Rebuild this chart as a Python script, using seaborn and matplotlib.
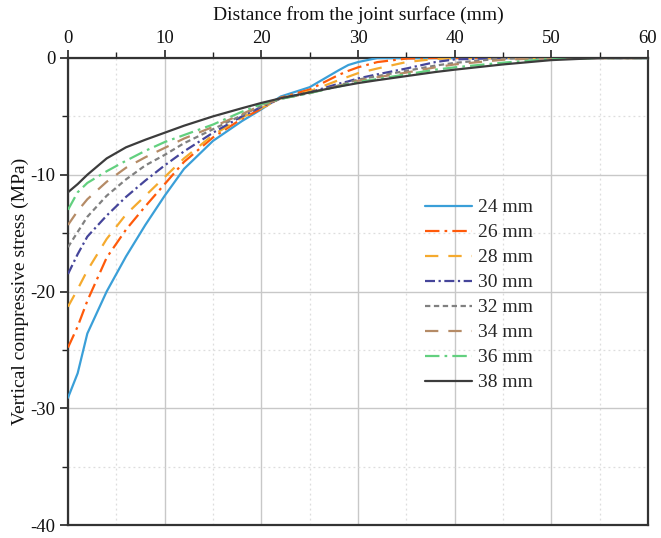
import numpy as np
import pandas as pd
import matplotlib
matplotlib.use("Agg")
import matplotlib.pyplot as plt
from matplotlib.ticker import MultipleLocator
import seaborn as sns

# ---- data ----
distance = [0, 1, 2, 4, 6, 8, 10, 12, 15, 18, 20, 22, 25, 28, 29, 30, 32, 35, 38, 40, 45, 50, 55, 60]

s24 = [-29.1, -27.0, -23.6, -20.0, -17.0, -14.3, -11.8, -9.5, -7.1, -5.4, -4.4, -3.3, -2.5, -1.05, -0.6, -0.35, 0, 0, 0, 0, 0, 0, 0, 0]
s26 = [-24.8, -23.0, -20.8, -17.1, -14.7, -12.7, -10.8, -8.9, -6.8, -5.2, -4.35, -3.4, -2.7, -1.45, -1.1, -0.8, -0.35, -0.05, 0, 0, 0, 0, 0, 0]
s28 = [-21.3, -19.8, -18.2, -15.5, -13.4, -11.8, -10.2, -8.6, -6.6, -5.1, -4.3, -3.45, -2.85, -1.9, -1.6, -1.3, -0.9, -0.35, -0.08, 0, 0, 0, 0, 0]
s30 = [-18.5, -16.8, -15.3, -13.5, -11.9, -10.5, -9.2, -8.0, -6.4, -5.0, -4.2, -3.45, -2.95, -2.2, -2.0, -1.75, -1.4, -0.9, -0.35, -0.12, 0, 0, 0, 0]
s32 = [-16.2, -14.9, -13.6, -11.8, -10.4, -9.2, -8.3, -7.3, -6.1, -4.9, -4.1, -3.5, -3.0, -2.35, -2.1, -1.85, -1.55, -1.1, -0.65, -0.42, -0.03, 0, 0, 0]
s34 = [-14.3, -13.1, -12.1, -10.6, -9.4, -8.5, -7.7, -6.9, -5.9, -4.8, -4.05, -3.5, -3.0, -2.4, -2.15, -1.95, -1.65, -1.25, -0.8, -0.55, -0.15, 0, 0, 0]
s36 = [-13.0, -11.5, -10.7, -9.7, -8.8, -7.95, -7.2, -6.6, -5.7, -4.6, -3.95, -3.5, -3.0, -2.45, -2.25, -2.05, -1.8, -1.4, -1.0, -0.8, -0.4, -0.08, 0, 0]
s38 = [-11.5, -10.8, -10.0, -8.6, -7.65, -7.0, -6.4, -5.8, -5.0, -4.3, -3.85, -3.45, -2.95, -2.45, -2.3, -2.15, -1.9, -1.55, -1.2, -1.0, -0.55, -0.18, 0, 0]

labels = ["24 mm", "26 mm", "28 mm", "30 mm", "32 mm", "34 mm", "36 mm", "38 mm"]
series = [s24, s26, s28, s30, s32, s34, s36, s38]

x_ticks = [0, 10, 20, 30, 40, 50, 60]
y_ticks = [0, -10, -20, -30, -40]

# ---- styling ----
colors = ["#3A9FD8", "#FF5A0A", "#F5AA2E", "#45459A", "#808080", "#B58B66", "#62D07F", "#3C3C3C"]
dashes = ["", (6.5, 2.3, 1.2, 2.3), (6, 4.5), (4.5, 1.6, 1.0, 1.6), (2.4, 1.6),
          (6, 4.5), (6.5, 2.3, 1.2, 2.3), ""]

rows = []
for lab, vals in zip(labels, series):
    for xv, yv in zip(distance, vals):
        rows.append({"Distance": xv, "Stress": yv, "Thickness": lab})
df = pd.DataFrame(rows)

sns.set_style("white")
plt.rcParams["font.family"] = ["Liberation Serif", "DejaVu Serif"]
plt.rcParams["axes.unicode_minus"] = False

W, H = 661, 538
L, R, T, B = 68, 648, 58, 525
fig = plt.figure(figsize=(W / 100, H / 100), dpi=100)
ax = fig.add_axes([L / W, 1 - B / H, (R - L) / W, (B - T) / H])

sns.lineplot(data=df, x="Distance", y="Stress", hue="Thickness", style="Thickness",
             hue_order=labels, style_order=labels,
             palette=dict(zip(labels, colors)), dashes=dict(zip(labels, dashes)),
             linewidth=1.6, ax=ax, legend=True, zorder=3)

ax.set_xlim(0, 60)
ax.set_ylim(-40, 0)
ax.set_xticks(x_ticks)
ax.set_yticks(y_ticks)
ax.xaxis.set_minor_locator(MultipleLocator(5))
ax.yaxis.set_minor_locator(MultipleLocator(5))

ax.xaxis.tick_top()
ax.xaxis.set_label_position("top")
ax.tick_params(axis="x", which="major", direction="out", length=6, width=1.2,
               labelsize=13.5, pad=2, top=True, bottom=False, colors="#222222")
ax.tick_params(axis="x", which="minor", direction="out", length=4, width=1.0,
               top=True, bottom=False, colors="#222222")
ax.tick_params(axis="y", which="major", direction="out", length=6, width=1.2,
               labelsize=13.5, pad=3, left=True, right=False, colors="#222222")
ax.tick_params(axis="y", which="minor", direction="out", length=4, width=1.0,
               left=True, right=False, colors="#222222")
for lab in ax.get_xticklabels() + ax.get_yticklabels():
    lab.set_color("#111111")

ax.grid(which="major", color="#c8c8c8", linewidth=1.0, linestyle="-", zorder=0)
ax.grid(which="minor", color="#dddddd", linewidth=0.9, linestyle=(0, (1.5, 2.5)), zorder=0)
ax.set_axisbelow(True)

for sp in ax.spines.values():
    sp.set_visible(True)
    sp.set_color("#333333")
    sp.set_linewidth(1.6)

ax.set_xlabel("Distance from the joint surface (mm)", fontsize=14, labelpad=7, color="#111111")
ax.set_ylabel("Vertical compressive stress (MPa)", fontsize=14, color="#111111")
ax.yaxis.set_label_coords((29 - L) / (R - L), 0.5)

leg = ax.legend(loc="upper left", bbox_to_anchor=(417 / W, 1 - 191 / H),
                bbox_transform=fig.transFigure, frameon=False, fontsize=14,
                handlelength=2.45, handletextpad=0.3, labelspacing=0.38, borderaxespad=0)
for h in leg.get_lines():
    h.set_linewidth(1.6)

fig.savefig("out.png", dpi=100)
